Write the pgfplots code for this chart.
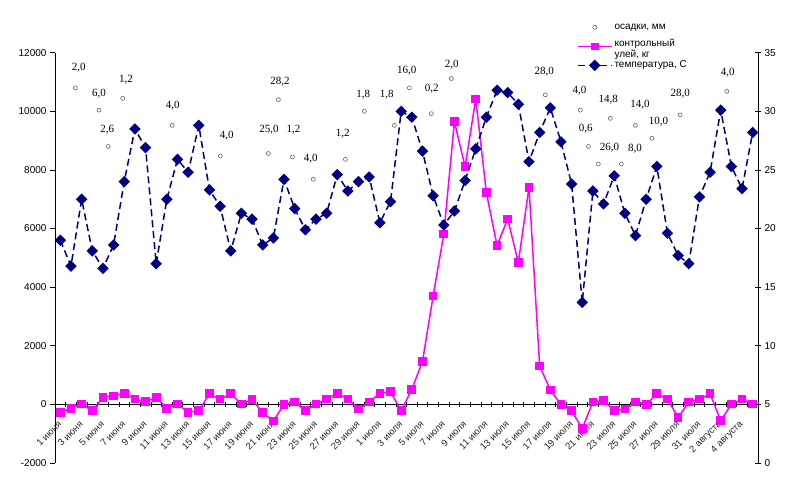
\documentclass[border=0pt]{standalone}
\usepackage{fontspec}
\setmainfont{Liberation Sans}
\newfontfamily\lserif{Liberation Serif}
\usepackage{pgfplots}
\usepackage{pgfplotstable}
\pgfplotsset{compat=1.18}
\definecolor{pinkc}{RGB}{255,0,255}
\definecolor{navyc}{RGB}{0,0,128}
\definecolor{circc}{RGB}{100,100,100}

\pgfplotstableread{
x y
0 -280
1 -130
2 10
3 -220
4 240
5 290
6 380
7 180
8 90
9 240
10 -130
11 10
12 -270
13 -220
14 360
15 180
16 360
17 10
18 170
19 -280
20 -570
21 0
22 80
23 -220
24 10
25 180
26 380
27 180
28 -160
29 80
30 380
31 430
32 -220
33 520
34 1460
35 3700
36 5810
37 9650
38 8110
39 10420
40 7220
41 5420
42 6330
43 4840
44 7410
45 1310
46 490
47 0
48 -220
49 -820
50 80
51 140
52 -220
53 -160
54 80
55 0
56 360
57 180
58 -450
59 80
60 180
61 360
62 -560
63 10
64 180
65 10
}\hive

\pgfplotstableread{
x t
0 19.0
1 16.8
2 22.5
3 18.1
4 16.6
5 18.6
6 24.0
7 28.5
8 26.9
9 17.0
10 22.5
11 25.9
12 24.8
13 28.8
14 23.3
15 21.9
16 18.1
17 21.3
18 20.8
19 18.6
20 19.2
21 24.2
22 21.7
23 19.9
24 20.8
25 21.3
26 24.6
27 23.2
28 24.0
29 24.4
30 20.5
31 22.3
32 30.0
33 29.5
34 26.6
35 22.8
36 20.3
37 21.5
38 24.1
39 26.8
40 29.5
41 31.8
42 31.6
43 30.6
44 25.7
45 28.2
46 30.3
47 27.4
48 23.8
49 13.7
50 23.2
51 22.1
52 24.5
53 21.3
54 19.4
55 22.5
56 25.3
57 19.6
58 17.7
59 17.0
60 22.7
61 24.8
62 30.1
63 25.3
64 23.4
65 28.2
}\temp

\pgfplotstableread{
x t
1.41 32.0
3.63 30.1
4.50 27.0
5.86 31.1
10.51 28.8
15.02 26.2
19.53 26.4
20.47 31.0
21.78 26.1
23.75 24.2
26.76 25.9
28.54 30.0
31.36 28.8
32.77 32.0
34.83 29.8
36.71 32.8
45.54 31.4
48.82 30.1
49.58 27.0
50.51 25.5
51.64 29.4
52.67 25.5
53.99 28.8
55.53 27.7
58.19 29.7
62.57 31.7
}\rain

\pgfplotstableread{
x t label
1.73 33.7 2,0
3.63 31.5 6,0
4.41 28.4 2,6
6.17 32.7 1,2
10.55 30.5 4,0
15.62 27.9 4,0
19.59 28.4 25,0
20.63 32.5 28,2
21.88 28.4 1,2
23.51 26.0 4,0
26.51 28.1 1,2
28.45 31.4 1,8
30.65 31.4 1,8
32.52 33.5 16,0
34.87 31.9 0,2
36.75 34.0 2,0
45.44 33.4 28,0
48.73 31.8 4,0
49.33 28.5 0,6
51.55 26.9 26,0
51.45 31.0 14,8
53.96 26.8 8,0
54.43 30.6 14,0
56.15 29.1 10,0
58.19 31.5 28,0
62.66 33.3 4,0
}\rainlabels

\begin{document}
\begin{tikzpicture}
\useasboundingbox (0,0) rectangle (786pt,491pt);
\begin{axis}[
  at={(55pt,28pt)}, anchor=south west,
  scale only axis, width=703pt, height=410.3pt,
  xmin=-0.5, xmax=65.5, ymin=-2000, ymax=12000,
  axis y line=left, axis x line=middle,
  axis line style={-, line width=0.7pt, black},
  hide obscured x ticks=false, hide obscured y ticks=false,
  ytick={-2000,0,2000,4000,6000,8000,10000,12000},
  scaled y ticks=false,
  yticklabel style={/pgf/number format/assume math mode=true, /pgf/number format/1000 sep={}, font=\fontsize{10}{12}\selectfont},
  xtick={-0.5,0.5,...,65.5},
  xticklabels={},
  xtick align=center,
  ytick align=outside,
  major tick length=5pt,
  tick style={black, line width=0.7pt},
  extra x ticks={0,2,...,64},
  extra x tick labels={1 июня,3 июня,5 июня,7 июня,9 июня,11 июня,13 июня,15 июня,17 июня,19 июня,21 июня,23 июня,25 июня,27 июня,29 июня,1 июля,3 июля,5 июля,7 июля,9 июля,11 июля,13 июля,15 июля,17 июля,19 июля,21 июля,23 июля,25 июля,27 июля,29 июля,31 июля,2 августа,4 августа},
  extra x tick style={major tick length=0pt, xticklabel style={xshift=2pt, yshift=-16pt, rotate=45, anchor=east, font=\fontsize{9.5}{11}\selectfont, text=black!85}},
  clip=false,
]
\addplot[pinkc, line width=1.5pt, mark=square*, mark size=3.6pt, mark options={fill=pinkc}] table[x=x, y=y] {\hive};
\end{axis}
\begin{axis}[
  at={(55pt,28pt)}, anchor=south west,
  scale only axis, width=703pt, height=410.3pt,
  xmin=-0.5, xmax=65.5, ymin=0, ymax=35,
  axis y line=right, axis x line=none,
  axis line style={-, line width=0.7pt, black},
  ytick={0,5,...,35},
  yticklabel style={/pgf/number format/assume math mode=true, font=\fontsize{10}{12}\selectfont},
  ytick align=center,
  major tick length=6pt,
  tick style={black, line width=0.7pt},
  clip=false,
  legend style={at={(0.738,1.083)}, anchor=north west, draw=none, fill=none, font=\fontsize{10}{11}\selectfont, nodes={text height=7pt, text depth=2pt}, row sep=4pt},
  legend cell align=left,
  legend image code/.code={\draw[mark repeat=2, mark phase=2, #1] plot coordinates {(0pt,0pt) (17pt,0pt) (34pt,0pt)};},
]
\addplot[circc, only marks, mark=o, mark size=2pt, line width=0.6pt] table[x=x, y=t] {\rain};
\addlegendentry{осадки, мм}
\addlegendimage{legend image code/.code={\draw[pinkc, line width=1.5pt] (0pt,0pt) -- (34pt,0pt); \fill[pinkc] (13.8pt,-3.2pt) rectangle (20.2pt,3.2pt);}}
\addlegendentry[text depth=6pt]{{\smash{\begin{tabular}[t]{@{}l@{}}контрольный\\[0pt]улей, кг\end{tabular}}}}
\addplot[navyc, line width=1.5pt, dash pattern=on 7pt off 4pt, mark=square*, mark size=3.3pt, mark options={solid, rotate=45, fill=navyc}] table[x=x, y=t] {\temp};
\addlegendentry{температура, С}
\addplot[draw=none, mark=none, nodes near coords, point meta=explicit symbolic, nodes near coords style={anchor=center, font=\lserif\fontsize{11}{12}\selectfont, text=black}] table[x=x, y=t, meta=label] {\rainlabels};
\end{axis}
\end{tikzpicture}
\end{document}
